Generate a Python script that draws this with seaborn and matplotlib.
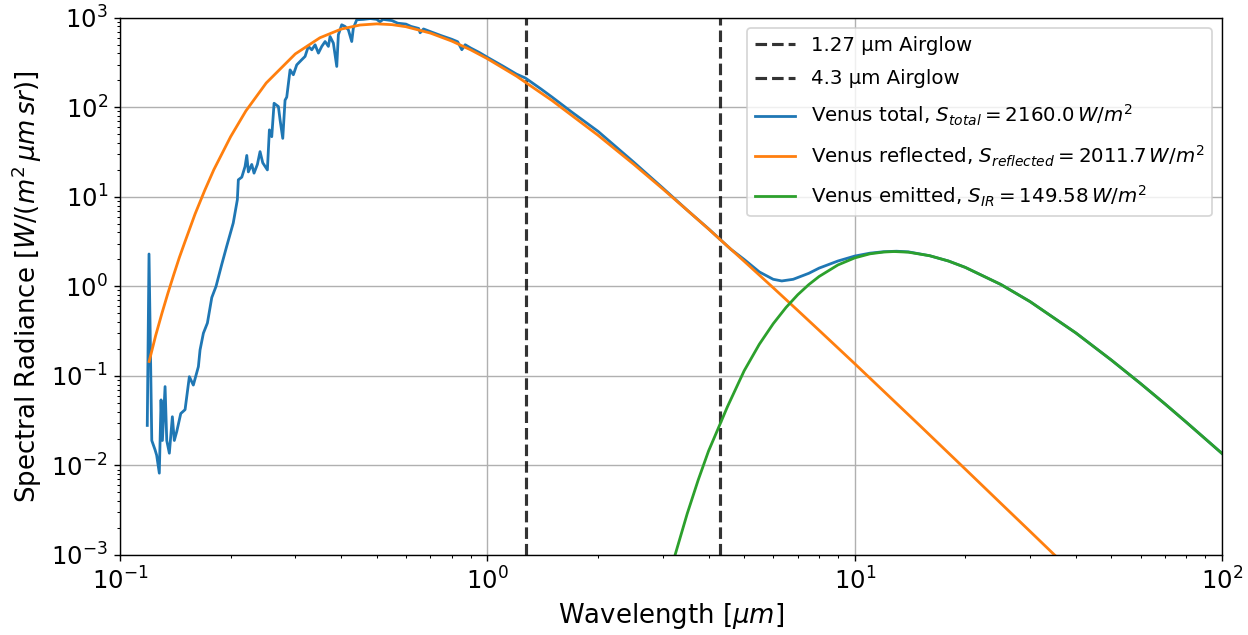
import matplotlib
matplotlib.use("Agg")
import matplotlib.pyplot as plt
import matplotlib.ticker as mticker
import seaborn as sns
import pandas as pd

# ---------------- data ----------------
airglow_lines = [1.27, 4.3]
airglow_labels = ["1.27 \u00b5m Airglow", "4.3 \u00b5m Airglow"]

# Venus total (measured + emitted)
total_wl = [0.1186, 0.1199, 0.1220, 0.1245, 0.1258, 0.1279, 0.1293, 0.1304, 0.1326, 0.1340,
            0.1362, 0.1388, 0.1405, 0.1427, 0.1463, 0.1503, 0.1544, 0.1583, 0.1634, 0.1651,
            0.1686, 0.1729, 0.1777, 0.1825, 0.1891, 0.1951, 0.2033, 0.2086, 0.2099, 0.2145,
            0.2189, 0.2213, 0.2235, 0.2283, 0.2316, 0.2365, 0.2405, 0.2446, 0.2518, 0.2550,
            0.2588, 0.2626, 0.2698, 0.2727, 0.2773, 0.2813, 0.2843, 0.2903, 0.2963, 0.3027,
            0.3123, 0.3189, 0.3255, 0.3326, 0.3396, 0.3467, 0.3541, 0.3616, 0.3691, 0.3730,
            0.3808, 0.3890, 0.3929, 0.4013, 0.4097, 0.4183, 0.4273, 0.4316, 0.4409, 0.46,
            0.48, 0.50, 0.51, 0.52, 0.55, 0.57, 0.60, 0.62, 0.65, 0.656,
            0.67, 0.70, 0.75, 0.80, 0.83, 0.852, 0.87, 0.90, 0.95, 1.0,
            1.1, 1.2, 1.27, 1.4, 1.5, 1.7, 2.0, 2.5, 3.0, 3.5,
            4.0, 4.3, 4.6, 5.0, 5.5, 6.0, 6.33, 6.8, 7.5, 8.0,
            9.0, 10.0, 11.0, 12.0, 13.0, 14.0, 16.0, 18.0, 20.0, 25.0,
            30.0, 40.0, 50.0, 60.0, 70.0, 80.0, 100.0]
total_val = [0.028, 2.3, 0.019, 0.015, 0.013, 0.0082, 0.054, 0.019, 0.076, 0.019,
             0.0137, 0.035, 0.019, 0.024, 0.038, 0.042, 0.098, 0.079, 0.127, 0.195,
             0.30, 0.39, 0.75, 1.0, 1.75, 2.8, 5.1, 9.3, 15.5, 16.6,
             21.8, 29.0, 19.0, 23.0, 18.4, 23.0, 32.0, 24.0, 20.0, 56.0,
             47.0, 111.0, 102.0, 72.0, 45.0, 120.0, 130.0, 262.0, 231.0, 298.0,
             340.0, 370.0, 479.0, 439.0, 499.0, 403.0, 479.0, 543.0, 479.0, 618.0,
             521.0, 286.0, 646.0, 835.0, 800.0, 734.0, 543.0, 767.0, 950.0, 960.0,
             980.0, 960.0, 900.0, 960.0, 930.0, 870.0, 850.0, 800.0, 760.0, 680.0,
             750.0, 700.0, 630.0, 575.0, 540.0, 440.0, 500.0, 460.0, 410.0, 362.0,
             290.0, 235.0, 212.0, 160.0, 130.0, 88.0, 54.0, 24.5, 12.6, 7.1,
             4.4, 3.35, 2.6, 2.0, 1.45, 1.2, 1.15, 1.2, 1.4, 1.6,
             1.92, 2.18, 2.35, 2.44, 2.47, 2.43, 2.20, 1.92, 1.63, 1.05,
             0.677, 0.302, 0.150, 0.0822, 0.0485, 0.0303, 0.0136]

# Venus reflected
refl_wl = [0.12, 0.125, 0.13, 0.135, 0.14, 0.145, 0.15, 0.16, 0.17, 0.18,
           0.2, 0.22, 0.25, 0.3, 0.35, 0.4, 0.45, 0.5, 0.55, 0.6,
           0.7, 0.8, 0.9, 1.0, 1.2, 1.5, 2.0, 2.5, 3.0, 3.5,
           4.0, 5.0, 6.0, 7.0, 8.0, 10.0, 12.0, 15.0, 20.0, 25.0,
           30.0, 35.0, 40.0]
refl_val = [0.145, 0.282, 0.50, 0.841, 1.35, 2.10, 3.1, 6.42, 11.8, 20.1,
            47.0, 91.0, 187.0, 395.0, 598.0, 748.0, 830.0, 855.0, 838.0, 795.0,
            674.0, 549.0, 439.0, 349.0, 223.0, 119.0, 48.8, 23.2, 12.3, 7.09,
            4.37, 1.91, 0.965, 0.538, 0.323, 0.137, 0.0673, 0.0282, 0.0091, 0.00377,
            0.00184, 0.00100, 0.00059]

# Venus emitted
emit_wl = [3.2, 3.5, 3.75, 4.0, 4.3, 4.5, 5.0, 5.5, 6.0, 6.5,
           7.0, 7.5, 8.0, 9.0, 10.0, 11.0, 12.0, 12.8, 14.0, 16.0,
           18.0, 20.0, 25.0, 30.0, 40.0, 50.0, 60.0, 70.0, 80.0, 100.0]
emit_val = [0.00083, 0.0029, 0.0069, 0.0145, 0.0290, 0.045, 0.114, 0.226, 0.383, 0.581,
            0.808, 1.048, 1.29, 1.735, 2.08, 2.31, 2.42, 2.45, 2.41, 2.20,
            1.92, 1.63, 1.05, 0.677, 0.302, 0.150, 0.0822, 0.0485, 0.0303, 0.0136]

total_label = r"Venus total, $S_{total} = 2160.0\,W/m^2$"
refl_label = r"Venus reflected, $S_{reflected} = 2011.7\,W/m^2$"
emit_label = r"Venus emitted, $S_{IR} = 149.58\,W/m^2$"

# ---------------- plotting ----------------
fig = plt.figure(figsize=(9.984, 5.08), dpi=125)
ax = fig.add_axes([0.0962, 0.126, 0.883, 0.846])

for xv, lab in zip(airglow_lines, airglow_labels):
    ax.axvline(xv, color="k", ls="--", lw=1.8, alpha=0.8, label=lab)

df_t = pd.DataFrame({"wl": total_wl, "val": total_val})
df_r = pd.DataFrame({"wl": refl_wl, "val": refl_val})
df_e = pd.DataFrame({"wl": emit_wl, "val": emit_val})

sns.lineplot(data=df_t, x="wl", y="val", estimator=None, sort=False, ax=ax,
             color="#1f77b4", lw=1.6, label=total_label)
sns.lineplot(data=df_r, x="wl", y="val", estimator=None, sort=False, ax=ax,
             color="#ff7f0e", lw=1.6, label=refl_label)
sns.lineplot(data=df_e, x="wl", y="val", estimator=None, sort=False, ax=ax,
             color="#2ca02c", lw=1.6, label=emit_label)

ax.set_xscale("log")
ax.set_yscale("log")
ax.set_xlim(0.1, 100)
ax.set_ylim(1e-3, 1e3)
ax.xaxis.set_minor_formatter(mticker.NullFormatter())
ax.yaxis.set_minor_formatter(mticker.NullFormatter())
ax.grid(True, which="major")
ax.tick_params(axis="both", which="major", labelsize=14)
ax.set_xlabel(r"Wavelength $[\mu m]$", fontsize=15, labelpad=4)
ax.set_ylabel(r"Spectral Radiance $[W/(m^2\,\mu m\,sr)]$", fontsize=15, labelpad=4)
ax.legend(loc="upper right", fontsize=11.4, labelspacing=0.75)

fig.savefig("out.png", dpi=125)
